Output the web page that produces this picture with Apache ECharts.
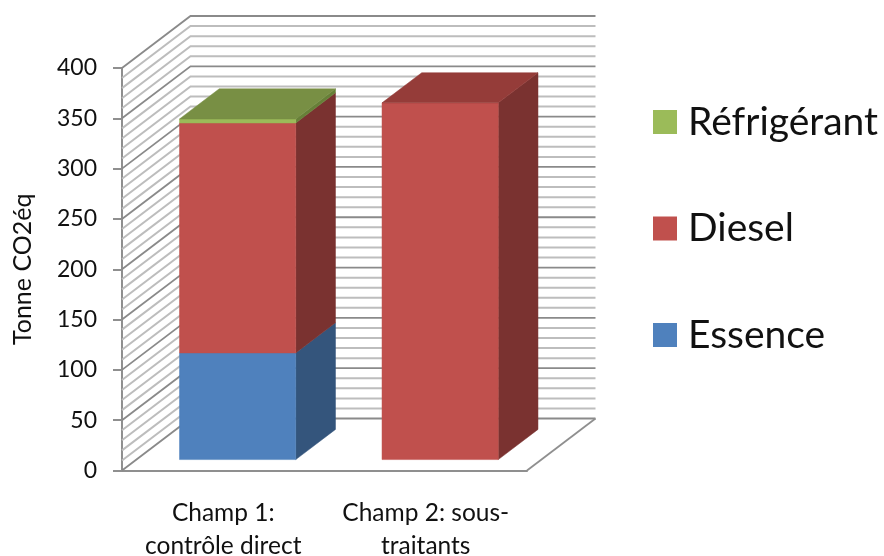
<!DOCTYPE html>
<html>
<head>
<meta charset="utf-8">
<script src="https://cdn.jsdelivr.net/npm/echarts@6/dist/echarts.min.js"></script>
<style>html,body{margin:0;padding:0;background:#fff}#c{width:884px;height:556px}</style>
</head>
<body>
<div id="c"></div>
<script>
const categories = ['Champ 1:\ncontrôle direct', 'Champ 2: sous-\ntraitants'];
const essence = [106, 0];
const diesel = [228.5, 354.5];
const refrigerant = [4, 0];
const stackOrder = [essence, diesel, refrigerant];
const wallTicks = [0,10,20,30,40,50,60,70,80,90,100,110,120,130,140,150,160,170,180,190,200,
  210,220,230,240,250,260,270,280,290,300,310,320,330,340,350,360,370,380,390,400];

const DEPTH_X = 68.5, DEPTH_Y = -52;
const BAR_FRONT = 0.21, BAR_BACK = 0.79, BAR_RATIO = 0.574;
const FONT = 'Lato, "Open Sans", sans-serif';
const TEXT = '#111111';

function poly(points, fill) {
  return { type: 'polygon', shape: { points }, style: { fill, stroke: fill, lineWidth: 0.5 } };
}

function renderBar(seriesIdx, colors) {
  return function (params, api) {
    const cat = api.value(0);
    const own = stackOrder[seriesIdx][cat];
    if (!own) return { type: 'group', children: [] };
    let start = 0;
    for (let i = 0; i < seriesIdx; i++) start += stackOrder[i][cat];
    let isTop = true;
    for (let i = seriesIdx + 1; i < stackOrder.length; i++) if (stackOrder[i][cat]) isTop = false;
    const lo = api.coord([cat, start]);
    const hi = api.coord([cat, start + own]);
    const w = api.size([1, 0])[0] * BAR_RATIO;
    const fx = DEPTH_X * BAR_FRONT, fy = DEPTH_Y * BAR_FRONT;
    const bx = DEPTH_X * (BAR_BACK - BAR_FRONT), by = DEPTH_Y * (BAR_BACK - BAR_FRONT);
    const xL = lo[0] + fx - w / 2, xR = lo[0] + fx + w / 2;
    const yB = lo[1] + fy, yT = hi[1] + fy;
    const children = [
      poly([[xR, yB], [xR + bx, yB + by], [xR + bx, yT + by], [xR, yT]], colors.side),
      poly([[xL, yB], [xR, yB], [xR, yT], [xL, yT]], colors.front)
    ];
    if (isTop) children.push(poly([[xL, yT], [xR, yT], [xR + bx, yT + by], [xL + bx, yT + by]], colors.top));
    return { type: 'group', children };
  };
}

function renderWallLine(params, api) {
  const v = api.value(0);
  const p = api.coord([0, v]);
  const cs = params.coordSys;
  const major = v % 50 === 0;
  const style = { stroke: major ? '#8a8a8a' : '#bdbdbd', lineWidth: major ? 1.8 : 2, fill: null };
  return {
    type: 'polyline',
    shape: { points: [[cs.x, p[1]], [cs.x + DEPTH_X, p[1] + DEPTH_Y], [cs.x + cs.width + DEPTH_X, p[1] + DEPTH_Y]] },
    style
  };
}

function renderFloor(params, api) {
  const p = api.coord([0, 0]);
  const cs = params.coordSys;
  return {
    type: 'line',
    shape: { x1: cs.x + cs.width, y1: p[1], x2: cs.x + cs.width + DEPTH_X, y2: p[1] + DEPTH_Y },
    style: { stroke: '#8f8f8f', lineWidth: 1.8 }
  };
}

function barSeries(name, idx, colors) {
  return {
    name, type: 'custom', coordinateSystem: 'cartesian2d', z: 5, silent: true,
    itemStyle: { color: colors.front },
    renderItem: renderBar(idx, colors),
    encode: { x: 0, y: 1 },
    data: stackOrder[idx].map((v, i) => [i, v])
  };
}

const chart = echarts.init(document.getElementById('c'), null, { renderer: 'canvas' });
chart.setOption({
  animation: false,
  backgroundColor: '#ffffff',
  grid: { left: 122, top: 68, width: 405, height: 402.5, outerBoundsMode: 'none' },
  legend: {
    left: 653, top: 99, padding: 0, orient: 'vertical', icon: 'rect',
    itemWidth: 24, itemHeight: 24, itemGap: 60.5,
    data: ['Réfrigérant', 'Diesel', 'Essence'],
    textStyle: { fontFamily: FONT, fontSize: 39, color: TEXT, lineHeight: 46, padding: [0, 0, 0, 6] }
  },
  xAxis: {
    type: 'category', data: categories,
    axisTick: { show: false },
    axisLine: { lineStyle: { color: '#8f8f8f', width: 2 } },
    axisLabel: { interval: 0, fontFamily: FONT, fontSize: 24.5, color: TEXT, lineHeight: 33, margin: 26 }
  },
  yAxis: {
    type: 'value', min: 0, max: 400, interval: 50,
    name: 'Tonne CO2éq', nameLocation: 'middle', nameRotate: 90, nameGap: 87,
    nameTextStyle: { fontFamily: FONT, fontSize: 25, color: TEXT },
    splitLine: { show: false },
    axisLine: { show: true, lineStyle: { color: '#8f8f8f', width: 2 } },
    axisTick: { show: true, length: 9, lineStyle: { color: '#8f8f8f', width: 2 } },
    axisLabel: { fontFamily: FONT, fontSize: 23, color: TEXT, margin: 25, padding: [4, 0, 0, 0] }
  },
  series: [
    { type: 'custom', coordinateSystem: 'cartesian2d', z: 1, silent: true, renderItem: renderWallLine,
      encode: { y: 0 }, data: wallTicks.map(v => [v]) },
    { type: 'custom', coordinateSystem: 'cartesian2d', z: 1, silent: true, renderItem: renderFloor,
      data: [[0]] },
    barSeries('Essence', 0, { front: '#4F81BD', side: '#34557C', top: '#3F6797' }),
    barSeries('Diesel', 1, { front: '#C0504D', side: '#7A3230', top: '#953C39' }),
    barSeries('Réfrigérant', 2, { front: '#9BBB59', side: '#678038', top: '#788F44' })
  ]
});
</script>
</body>
</html>
